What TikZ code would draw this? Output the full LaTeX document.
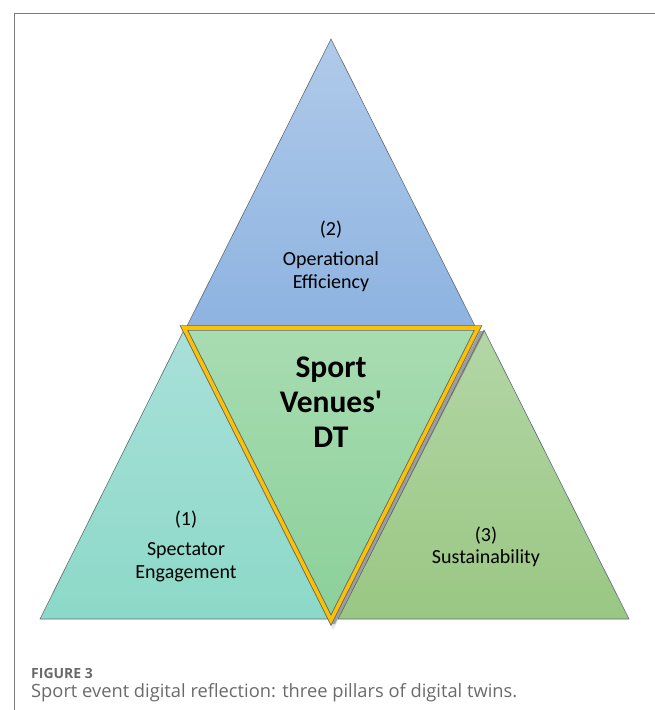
\documentclass[tikz,border=0pt]{standalone}
\usepackage{fontspec}
\setmainfont{Carlito}
\newfontfamily\capfont{Open Sans}
\usetikzlibrary{shadows}
\definecolor{frameC}{HTML}{7A7A7A}
\definecolor{blueT}{HTML}{B0CAE9}
\definecolor{blueB}{HTML}{8DB3E1}
\definecolor{tealT}{HTML}{A9E0D9}
\definecolor{tealB}{HTML}{8CD9C8}
\definecolor{grnT}{HTML}{B3D6A6}
\definecolor{grnB}{HTML}{9AC783}
\definecolor{midT}{HTML}{A8DCB1}
\definecolor{midB}{HTML}{8BD09A}
\definecolor{goldC}{HTML}{FFC000}
\definecolor{edgeC}{HTML}{5F6B73}
\definecolor{capC}{HTML}{6A6A6A}
\tikzset{
  pillar/.style={draw=edgeC, line width=0.6pt, line join=miter},
  lbl/.style={font=\fontsize{20}{23}\selectfont, align=center, inner sep=0pt, text=black},
  core/.style={font=\bfseries\fontsize{31.5}{35}\selectfont, align=center, inner sep=0pt, text=black},
}
\begin{document}
\begin{tikzpicture}[x=1pt,y=-1pt]
\useasboundingbox (0,0) rectangle (655,710);
% frame
\draw[frameC, line width=0.9pt] (14,710) coordinate (fa) -- (14,13) coordinate (fb) -- (655,13) coordinate (fc);
% left pillar
\path[pillar, top color=tealT, bottom color=tealB] (184,330) -- (40,619) -- (329,619) -- cycle;
% right pillar
\path[pillar, top color=grnT, bottom color=grnB] (484,330) -- (338,619) -- (629,619) -- cycle;
% top pillar
\path[pillar, top color=blueT, bottom color=blueB] (331,39) -- (186,328) -- (476,328) -- cycle;
% shadow of core
\fill[black, opacity=0.10] (186,326) -- (483,331) -- (333,630) -- cycle;
\fill[gray!80!black, opacity=0.55] (480,331) -- (485,331) -- (335,624) -- (331,624) -- cycle;
% core triangle
\path[draw=edgeC, line width=5.4pt, line join=miter, top color=midT, bottom color=midB] (184,328) -- (478,328) -- (331,620) -- cycle;
\draw[goldC, line width=3.6pt, line join=miter] (184,328) -- (478,328) -- (331,620) -- cycle;
% texts
\node[lbl] (t2) at (331,230) {(2)};
\node[lbl] (op) at (331,271.5) {Operational\\Efficiency};
\node[core] (dt) at (331,402) {Sport\\Venues\textquotesingle\\DT};
\node[lbl] (t1) at (186,520) {(1)};
\node[lbl] (sp) at (186,562.5) {Spectator\\Engagement};
\node[lbl] (t3) at (486,536) {(3)};
\node[lbl] (su) at (486,558) {Sustainability};
% caption
\node[anchor=base west, inner sep=0pt, text=capC, font=\capfont\bfseries\fontsize{14}{16}\selectfont] (cap1) at (31,678) {FIGURE 3};
\node[anchor=base west, inner sep=0pt, text=capC, font=\capfont\fontsize{18.3}{20}\selectfont] (cap2) at (31,697) {Sport event digital reflection: three pillars of digital twins.};
\end{tikzpicture}
\end{document}
